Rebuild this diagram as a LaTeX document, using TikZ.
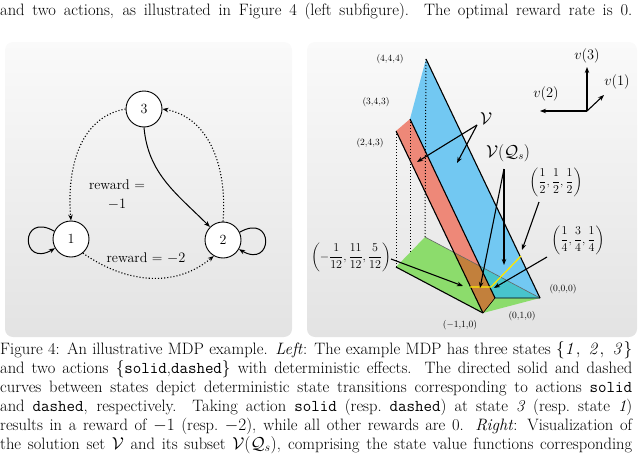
\documentclass[tikz,border=0pt]{standalone}
\usetikzlibrary{arrows.meta}
\usepackage{amsmath}
\definecolor{pgreen}{HTML}{8CDC6C}
\definecolor{pred}{HTML}{EE8878}
\definecolor{pblue}{HTML}{72C8F2}
\definecolor{pbrown}{HTML}{C2803C}
\definecolor{pteal}{HTML}{48C4CC}
\begin{document}
\begin{tikzpicture}[x=1pt,y=-1pt,
  captxt/.style={anchor=base west,inner sep=0pt,font=\fontsize{16.5}{19}\selectfont},
  panel/.style={rounded corners=8pt,top color=gray!4,bottom color=gray!22,draw=none},
  st/.style={circle,draw,line width=0.9pt,fill=white,minimum size=36pt,inner sep=0pt,font=\fontsize{14}{14}\selectfont},
  dot/.style={dotted,line width=1.1pt,-{Stealth[length=6pt]}},
  sol/.style={line width=1pt,-{Stealth[length=6pt]}},
  lab/.style={inner sep=0pt,font=\fontsize{9.5}{10}\selectfont},
  frl/.style={inner sep=0pt,font=\fontsize{13}{13}\selectfont},
  ptr/.style={line width=1.1pt,-{Stealth[length=6pt]}},
  pedge/.style={line width=1.1pt},
  vdot/.style={dotted,line width=1pt}]
\useasboundingbox (0,0) rectangle (640,455);
\clip (0,0) rectangle (640,455);
% text
\node[captxt] (t0) at (0,16) {\makebox[632pt][s]{and two actions, as illustrated in Figure 4 (left subfigure). The optimal reward rate is 0.}};
\node[captxt] (c1) at (0,354) {\makebox[632pt][s]{Figure 4: An illustrative MDP example. \textit{Left}: The example MDP has three states $\{\mathit{1},\ \mathit{2},\ \mathit{3}\}$}};
\node[captxt] (c2) at (0,373) {\makebox[632pt][s]{and two actions $\{$\texttt{solid},\texttt{dashed}$\}$ with deterministic effects. The directed solid and dashed}};
\node[captxt] (c3) at (0,392) {\makebox[632pt][s]{curves between states depict deterministic state transitions corresponding to actions \texttt{solid}}};
\node[captxt] (c4) at (0,411) {\makebox[632pt][s]{and \texttt{dashed}, respectively. Taking action \texttt{solid} (resp.\ \texttt{dashed}) at state \textit{3} (resp.\ state \textit{1})}};
\node[captxt] (c5) at (0,430) {\makebox[632pt][s]{results in a reward of $-1$ (resp.\ $-2$), while all other rewards are 0. \textit{Right}: Visualization of}};
\node[captxt] (c6) at (0,449) {\makebox[632pt][s]{the solution set $\mathcal{V}$ and its subset $\mathcal{V}(\mathcal{Q}_s)$, comprising the state value functions corresponding}};
% panels
\path[panel] (5,42) rectangle (292,337);
\path[panel] (307,42) rectangle (637,337);
% left MDP
\node[st] (n3) at (144,109) {3};
\node[st] (n1) at (71,239) {1};
\node[st] (n2) at (223,240) {2};
\draw[line width=1pt,-{Stealth[length=6pt]}] (n1.155) to[out=150,in=210,looseness=6] (n1.210);
\draw[line width=1pt,-{Stealth[length=6pt]}] (n2.25) to[out=30,in=-30,looseness=6] (n2.-30);
\draw[dot] (n3.west) to[out=190,in=95] (n1.north);
\draw[dot] (n2.north) to[out=85,in=-10] (n3.east);
\draw[dot] (n1.-50) to[out=-35,in=-140] (n2.-120);
\draw[sol] (n3.south) to[out=-85,in=135] (n2.north west);
\node[inner sep=0pt,align=center,font=\fontsize{14}{19}\selectfont] (r1) at (117,195) {reward =\\$-1$};
\node[inner sep=0pt,font=\fontsize{14}{16}\selectfont] (r2) at (146,258) {reward = $-2$};
% right planes
\coordinate (A) at (426,59);
\coordinate (B) at (410,119);
\coordinate (C) at (396,131);
\coordinate (O) at (540,298);
\coordinate (P) at (495,298);
\coordinate (Q) at (483,313);
\coordinate (G1) at (425,237);
\coordinate (G2) at (396,267);
\fill[pgreen] (G1) -- (G2) -- (Q) -- (O) -- cycle;
\fill[pred] (C) -- (B) -- (P) -- (Q) -- cycle;
\fill[pblue] (A) -- (O) -- (P) -- (B) -- cycle;
\begin{scope}
\clip (G1) -- (G2) -- (Q) -- (O) -- cycle;
\fill[pbrown] (C) -- (B) -- (P) -- (Q) -- cycle;
\fill[pteal] (A) -- (O) -- (P) -- (B) -- cycle;
\end{scope}
\draw[vdot] (A) -- (G1);
\draw[vdot] (B) -- (410,252);
\draw[vdot] (C) -- (G2);
\draw[line width=0.6pt,black!60] (G1) -- (O);
\draw[pedge] (A) -- (O);
\draw[pedge] (B) -- (P);
\draw[pedge] (C) -- (Q);
\draw[pedge] (G2) -- (Q);
\draw[line width=0.6pt] (Q) -- (P) -- (O);
\draw[yellow!90!orange,line width=1.3pt] (470,287) -- (491,287) -- (521,256);
% labels
\node[lab] (l444) at (390,59) {(4,4,4)};
\node[lab] (l343) at (376,102) {(3,4,3)};
\node[lab] (l243) at (370,143) {(2,4,3)};
\node[lab] (l000) at (563,289) {(0,0,0)};
\node[lab] (l010) at (522,316) {(0,1,0)};
\node[lab] (lm10) at (460,325) {($-$1,1,0)};
\node[inner sep=0pt,font=\fontsize{18}{18}\selectfont] (V) at (486,119) {$\mathcal{V}$};
\coordinate (Vr) at (417,162);
\coordinate (Vb) at (457,163);
\draw[ptr] (477,125) -- (Vr);
\draw[ptr] (477,125) -- (Vb);
\node[inner sep=0pt,font=\fontsize{16}{16}\selectfont] (VQ) at (508,153) {$\mathcal{V}(\mathcal{Q}_s)$};
\coordinate (q1) at (480,288);
\coordinate (q2) at (504,265);
\draw[ptr] (504,169) -- (q1);
\draw[ptr] (504,169) -- (q2);
\node[frl] (h) at (556,182) {$\left(\dfrac{1}{2},\dfrac{1}{2},\dfrac{1}{2}\right)$};
\coordinate (hp) at (522,250);
\draw[ptr] (539,202) -- (hp);
\node[frl] (qq) at (578,240) {$\left(\dfrac{1}{4},\dfrac{3}{4},\dfrac{1}{4}\right)$};
\coordinate (qp) at (494,288);
\draw[ptr] (547,257) -- (qp);
\node[frl] (tw) at (351,257) {$\left(-\dfrac{1}{12},\dfrac{11}{12},\dfrac{5}{12}\right)$};
\coordinate (tp) at (463,286);
\draw[ptr] (391,259) -- (tp);
% axes
\coordinate (ax) at (587,111);
\coordinate (a3) at (587,67);
\coordinate (a2) at (540,111);
\coordinate (a1) at (604,95);
\draw[ptr] (ax) -- (a3);
\draw[ptr] (ax) -- (a2);
\draw[ptr] (ax) -- (a1);
\node[inner sep=0pt,font=\fontsize{15}{15}\selectfont] (v3) at (587,56) {$v(3)$};
\node[inner sep=0pt,font=\fontsize{15}{15}\selectfont] (v2) at (546,94) {$v(2)$};
\node[inner sep=0pt,font=\fontsize{15}{15}\selectfont] (v1) at (617,82) {$v(1)$};
\end{tikzpicture}
\end{document}
